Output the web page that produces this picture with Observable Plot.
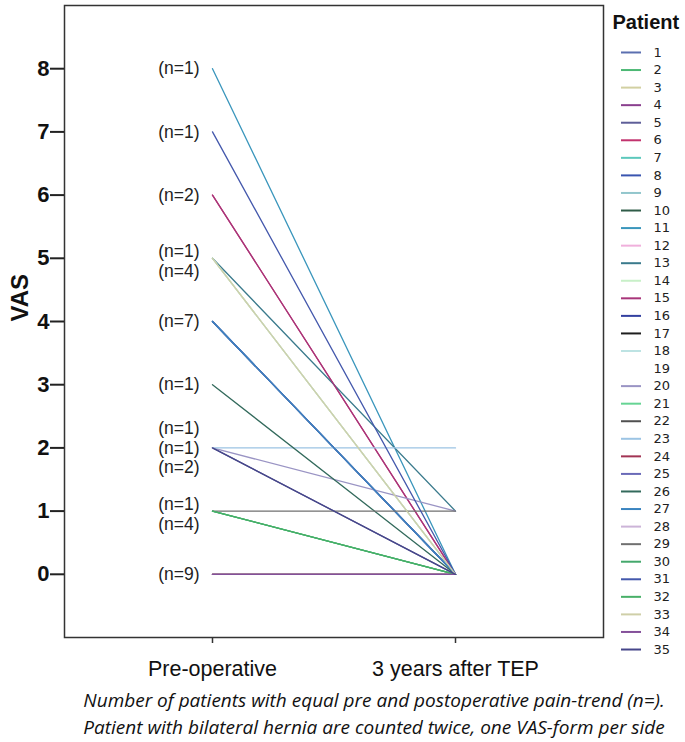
<!DOCTYPE html>
<html><head><meta charset="utf-8">
<script src="https://cdn.jsdelivr.net/npm/d3@7"></script>
<script src="https://cdn.jsdelivr.net/npm/@observablehq/plot@0.6"></script>
<style>
body{margin:0;background:#fff;}
#wrap{position:relative;width:685px;height:742px;font-family:"Liberation Sans",Arial,sans-serif;}
#main{position:absolute;left:0;top:0;}
#legend{position:absolute;left:605px;top:0;}
#caption{position:absolute;left:44px;width:660px;top:687px;text-align:center;font-family:"Open Sans",sans-serif;font-style:italic;font-size:19px;line-height:27px;color:#111;white-space:nowrap;}
</style></head><body>
<div id="wrap"><div id="main"></div><div id="legend"></div>
<div id="caption">Number of patients with equal pre and postoperative pain-trend (n=).<br>Patient with bilateral hernia are counted twice, one VAS-form per side</div></div>
<script>
const timepoints = ["Pre-operative", "3 years after TEP"];
const patients = [1,2,3,4,5,6,7,8,9,10,11,12,13,14,15,16,17,18,19,20,21,22,23,24,25,26,27,28,29,30,31,32,33,34,35];
const preVAS  = [4,1,5,0,2,6,4,4,4,0,8,0,5,5,6,4,0,5,0,2,1,0,2,0,4,3,4,0,1,1,7,1,5,0,2];
const postVAS = [0,0,0,0,0,0,0,0,0,0,0,0,1,0,0,0,0,0,0,1,0,0,2,0,0,0,0,0,1,0,0,0,0,0,0];
const colors = ["#5b6fb0","#4cb874","#d2d0a2","#8a3f8e","#5e5e98","#c2336e","#5cc8bc","#3a55b0","#92c6cc","#2f5c48",
                "#3a96bc","#f0b0dc","#3a7a8c","#c8f0c8","#a8357a","#3340a0","#1e1e1e","#bde3e3","#ffffff","#9a94c4",
                "#66d494","#505050","#9cc4e4","#a23454","#6a6ab8","#336a5c","#3a84c0","#ccb4d8","#707070","#44a86c",
                "#4458ac","#48b068","#cfcfa8","#84509a","#46468a"];
const yTicks = [0,1,2,3,4,5,6,7,8];

const rows = patients.flatMap((p, i) => [
  {patient: p, time: timepoints[0], vas: preVAS[i]},
  {patient: p, time: timepoints[1], vas: postVAS[i]}
]);

// group counts for (n=) labels
const pairs = patients.map((p, i) => ({pre: preVAS[i], post: postVAS[i]}));
const groups = d3.flatRollup(pairs, v => v.length, d => d.pre, d => d.post);
const byPre = d3.group(groups, d => d[0]);
const labels = [];
for (const [pre, arr] of byPre) {
  arr.sort((a, b) => b[1] - a[1]);
  const k = arr.length;
  arr.forEach((g, i) => labels.push({pre, post: g[1], n: g[2], off: i - (k - 1) / 2, k}));
}

const main = Plot.plot({
  width: 685, height: 685,
  marginLeft: 64, marginRight: 82, marginTop: 5, marginBottom: 48,
  style: {fontFamily: "Liberation Sans, Arial, sans-serif", color: "#111", background: "transparent"},
  x: {type: "point", domain: timepoints, padding: 0.609, round: false, label: null},
  y: {domain: [-1, 9], label: null},
  color: {type: "ordinal", domain: patients, range: colors},
  marks: [
    Plot.line(rows, {x: "time", y: "vas", z: "patient", stroke: "patient", strokeWidth: 1.3}),
    Plot.frame({stroke: "#333", strokeWidth: 1.5}),
    Plot.axisY({ticks: yTicks, tickSize: 14, tickPadding: 1, fontSize: 22, fontWeight: "bold", tickFormat: d => d, strokeWidth: 2, stroke: "#222", label: null}),
    Plot.axisX({tickSize: 6, tickPadding: 17, fontSize: 21.5, label: null, strokeWidth: 1.5, stroke: "#333"}),
    Plot.text(labels, {
      x: () => timepoints[0],
      y: d => d.pre - d.off * 0.31 - (d.k === 2 ? 0.05 : 0),
      text: d => `(n=${d.n})`,
      dx: -13, textAnchor: "end", fontSize: 17.5, letterSpacing: 0.6, fill: "#222"
    }),
    Plot.text(["VAS"], {frameAnchor: "left", dx: -44, rotate: -90, fontSize: 24, fontWeight: "bold", fill: "#111"})
  ]
});
document.getElementById("main").append(main);

const legend = Plot.plot({
  width: 80, height: 665,
  marginLeft: 16, marginRight: 44, marginTop: 43.2, marginBottom: 7.2,
  style: {fontFamily: "Liberation Sans, Arial, sans-serif", color: "#111", background: "transparent", overflow: "visible"},
  x: {axis: null},
  y: {type: "point", domain: patients, padding: 0.5, round: false, axis: null},
  color: {type: "ordinal", domain: patients, range: colors},
  marks: [
    Plot.tickY(patients, {y: d => d, stroke: d => d, strokeWidth: 2}),
    Plot.text(patients, {y: d => d, text: d => String(d), frameAnchor: "right", dx: 12, textAnchor: "start", fontSize: 13, fontFamily: "DejaVu Sans", letterSpacing: 1, fill: "#222"}),
    Plot.text(["Patient"], {frameAnchor: "top-left", dx: -9, dy: -21, lineAnchor: "middle", textAnchor: "start", fontSize: 20, fontWeight: "bold", fill: "#111"})
  ]
});
document.getElementById("legend").append(legend);
</script>
</body></html>
